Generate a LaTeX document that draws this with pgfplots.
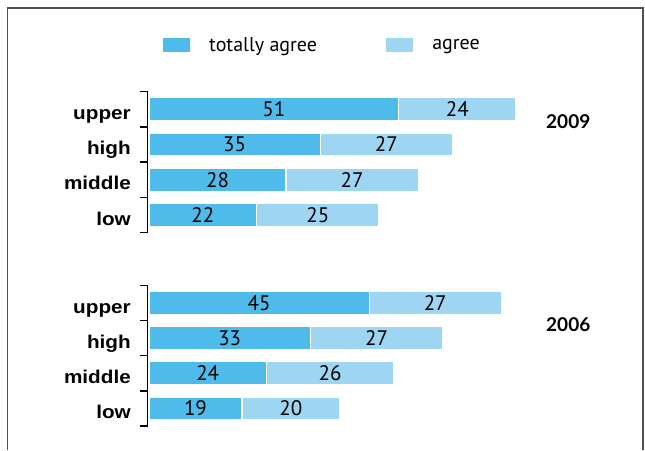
\documentclass[border=0pt]{standalone}
\usepackage{pgfplots}
\pgfplotsset{compat=1.18}
\usepackage{pgfplotstable}
\usepackage{fontspec}
\setmainfont{PT Sans}
\newfontfamily\labfont{Liberation Sans}[FakeStretch=1.12]
\newfontfamily\yearfont{Lato}
\definecolor{cdark}{HTML}{4FBBEB}
\definecolor{clight}{HTML}{9DD5F2}
\definecolor{cframe}{HTML}{505050}

\pgfplotstableread{
pos  td ag
0    51 24
1    35 27
2    28 27
3    22 25
5.5  45 27
6.5  33 27
7.5  24 26
8.5  19 20
}\datatab

\tikzset{catlab/.style={anchor=base east, inner sep=0pt, font=\labfont\bfseries\fontsize{18.5bp}{22bp}\selectfont},
  yearlab/.style={anchor=base west, inner sep=0pt, font=\yearfont\bfseries\fontsize{19bp}{22bp}\selectfont},
  brk/.style={black, line width=1.3bp}}

\begin{document}
\begin{tikzpicture}
\begin{axis}[
  x=4.893bp, y=35.2bp,
  y dir=reverse,
  xmin=-30.452, xmax=101.369,
  ymin=-3.105, ymax=9.679,
  axis line style={draw=none},
  xtick=\empty, ytick=\empty,
  clip=false,
  xbar stacked,
  bar width=23bp,
  /pgf/number format/assume math mode=true,
  legend style={draw=none, fill=none, inner sep=0pt, outer sep=0pt,
    at={(axis cs:2.657,-1.827)}, anchor=west,
    nodes={inner sep=0pt},
    font=\fontsize{20bp}{24bp}\selectfont},
  legend columns=2,
  legend cell align=left,
  /tikz/every odd column/.append style={column sep=18bp},
  /tikz/every even column/.append style={column sep=68bp},
  legend image code/.code={\fill[#1] (0bp,-8bp) rectangle (28bp,8bp);},
  nodes near coords,
  point meta=explicit,
  every node near coord/.append style={anchor=center,
     font=\fontsize{21bp}{24bp}\selectfont, text=black},
]
\addplot[fill=cdark, draw=white, line width=1.2bp]
  table[x=td, y=pos, meta=td] {\datatab};
\addlegendentry{totally agree}
\addplot[fill=clight, draw=white, line width=1.2bp]
  table[x=ag, y=pos, meta=ag] {\datatab};
\addlegendentry{agree}

% frame
\draw[cframe, line width=1.6bp] (axis cs:-28.92,9.679) -- (axis cs:-28.92,-2.878)
   -- (axis cs:100.96,-2.878) -- (axis cs:100.96,9.679);
% brackets 2009
\draw[brk] (axis cs:-1.84,-0.5) -- (axis cs:-0.3,-0.5) -- (axis cs:-0.3,3.5) -- (axis cs:-1.84,3.5);
\draw[brk] (axis cs:-1.84,0.5) -- (axis cs:-0.3,0.5);
\draw[brk] (axis cs:-1.84,1.5) -- (axis cs:-0.3,1.5);
\draw[brk] (axis cs:-1.84,2.5) -- (axis cs:-0.3,2.5);
% brackets 2006
\draw[brk] (axis cs:-1.84,5.0) -- (axis cs:-0.3,5.0) -- (axis cs:-0.3,9.0) -- (axis cs:-1.84,9.0);
\draw[brk] (axis cs:-1.84,6.0) -- (axis cs:-0.3,6.0);
\draw[brk] (axis cs:-1.84,7.0) -- (axis cs:-0.3,7.0);
\draw[brk] (axis cs:-1.84,8.0) -- (axis cs:-0.3,8.0);
% category labels
\node[catlab] at (axis cs:-3.68,0.29) {upper};
\node[catlab] at (axis cs:-3.68,1.29) {high};
\node[catlab] at (axis cs:-3.68,2.29) {middle};
\node[catlab] at (axis cs:-3.68,3.29) {low};
\node[catlab] at (axis cs:-3.68,5.79) {upper};
\node[catlab] at (axis cs:-3.68,6.79) {high};
\node[catlab] at (axis cs:-3.68,7.79) {middle};
\node[catlab] at (axis cs:-3.68,8.79) {low};
% year labels
\node[yearlab] at (axis cs:81.14,0.54) {2009};
\node[yearlab] at (axis cs:81.14,6.31) {2006};
\end{axis}
\end{tikzpicture}
\end{document}
